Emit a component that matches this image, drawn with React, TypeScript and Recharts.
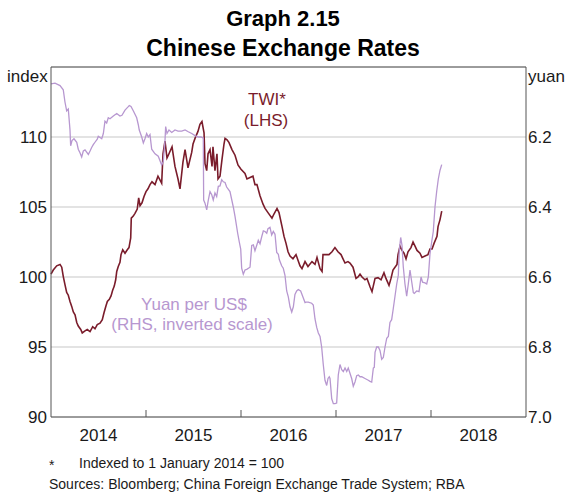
import React from "react";
import {
  LineChart,
  Line,
  XAxis,
  YAxis,
  CartesianGrid,
  ReferenceLine,
} from "recharts";

// [decimal year, index] — TWI, 1 Jan 2014 = 100
const twi: [number, number][] = [
  [2014.0, 100.2], [2014.024, 100.5], [2014.06, 100.8], [2014.095, 100.9], [2014.113, 100.7],
  [2014.129, 100.05], [2014.147, 99.45], [2014.165, 98.9], [2014.182, 98.7], [2014.2, 98.25],
  [2014.218, 97.9], [2014.235, 97.5], [2014.253, 97.3], [2014.271, 96.75], [2014.287, 96.5],
  [2014.313, 96.25], [2014.329, 96.0], [2014.358, 96.15], [2014.382, 96.25], [2014.411, 96.1],
  [2014.439, 96.45], [2014.463, 96.3], [2014.487, 96.6], [2014.516, 96.7], [2014.54, 96.95],
  [2014.558, 97.45], [2014.579, 97.95], [2014.593, 98.25], [2014.614, 98.4], [2014.632, 98.65],
  [2014.649, 99.05], [2014.666, 99.35], [2014.681, 99.8], [2014.692, 100.4], [2014.708, 100.75],
  [2014.726, 101.05], [2014.737, 101.6], [2014.755, 101.95], [2014.779, 101.7], [2014.803, 101.95],
  [2014.821, 102.1], [2014.839, 102.8], [2014.845, 104.2], [2014.866, 104.35], [2014.884, 104.55],
  [2014.908, 104.85], [2014.923, 105.65], [2014.937, 105.1], [2014.958, 105.3], [2014.979, 105.75],
  [2015.0, 106.1], [2015.021, 106.3], [2015.042, 106.6], [2015.063, 106.8], [2015.095, 106.6],
  [2015.126, 107.2], [2015.165, 106.7], [2015.179, 108.8], [2015.2, 109.7], [2015.221, 108.5],
  [2015.235, 108.7], [2015.274, 109.3], [2015.305, 107.9], [2015.337, 107.0], [2015.358, 106.3],
  [2015.389, 108.2], [2015.411, 109.1], [2015.442, 107.8], [2015.481, 108.9], [2015.495, 109.5],
  [2015.516, 109.9], [2015.547, 110.4], [2015.568, 110.9], [2015.589, 111.1], [2015.611, 110.3],
  [2015.621, 108.1], [2015.639, 107.6], [2015.653, 108.8], [2015.674, 109.1], [2015.695, 107.9],
  [2015.705, 109.3], [2015.726, 107.6], [2015.747, 108.8], [2015.758, 107.0], [2015.779, 107.2],
  [2015.8, 108.4], [2015.821, 109.5], [2015.832, 109.9], [2015.853, 109.8], [2015.874, 109.6],
  [2015.905, 109.1], [2015.937, 108.7], [2015.968, 108.0], [2016.0, 107.7], [2016.042, 107.4],
  [2016.063, 107.0], [2016.095, 107.1], [2016.126, 107.2], [2016.147, 106.6], [2016.168, 106.6],
  [2016.2, 105.8], [2016.232, 105.2], [2016.253, 104.9], [2016.284, 104.6], [2016.326, 104.2],
  [2016.347, 104.5], [2016.379, 104.9], [2016.4, 104.6], [2016.432, 103.6], [2016.453, 102.9],
  [2016.474, 102.4], [2016.495, 101.8], [2016.516, 101.5], [2016.547, 101.3], [2016.579, 101.6],
  [2016.6, 101.2], [2016.621, 100.8], [2016.642, 100.6], [2016.674, 101.1], [2016.705, 100.75],
  [2016.747, 101.1], [2016.779, 100.9], [2016.8, 101.4], [2016.832, 100.6], [2016.853, 100.4],
  [2016.863, 101.6], [2016.895, 101.6], [2016.926, 101.6], [2016.958, 101.8], [2016.989, 102.1],
  [2017.021, 101.8], [2017.053, 101.6], [2017.074, 101.3], [2017.095, 101.0], [2017.126, 101.1],
  [2017.147, 101.0], [2017.179, 100.7], [2017.211, 99.9], [2017.232, 100.0], [2017.253, 100.2],
  [2017.274, 100.0], [2017.305, 99.8], [2017.326, 99.9], [2017.337, 99.7], [2017.358, 99.3],
  [2017.379, 98.95], [2017.411, 99.9], [2017.442, 99.95], [2017.474, 99.8], [2017.505, 100.3],
  [2017.526, 99.9], [2017.558, 99.4], [2017.579, 99.9], [2017.6, 100.5], [2017.621, 100.7],
  [2017.642, 100.9], [2017.653, 101.6], [2017.674, 102.2], [2017.695, 101.9], [2017.716, 101.7],
  [2017.737, 101.3], [2017.758, 101.8], [2017.789, 102.1], [2017.811, 102.5], [2017.832, 102.2],
  [2017.853, 101.9], [2017.884, 101.7], [2017.905, 101.4], [2017.937, 101.5], [2017.968, 101.6],
  [2017.989, 102.0], [2018.011, 102.0], [2018.032, 102.4], [2018.063, 102.9], [2018.074, 103.6],
  [2018.095, 104.1], [2018.113, 104.7],
];

// [decimal year, CNY per USD]
const yuan: [number, number][] = [
  [2014.0, 6.048], [2014.042, 6.046], [2014.095, 6.053], [2014.129, 6.065], [2014.147, 6.1],
  [2014.165, 6.125], [2014.182, 6.12], [2014.2, 6.18], [2014.207, 6.225], [2014.221, 6.21],
  [2014.242, 6.205], [2014.271, 6.215], [2014.287, 6.235], [2014.305, 6.245], [2014.323, 6.257],
  [2014.34, 6.24], [2014.358, 6.237], [2014.393, 6.25], [2014.411, 6.24], [2014.428, 6.23],
  [2014.445, 6.222], [2014.463, 6.215], [2014.487, 6.206], [2014.498, 6.198], [2014.534, 6.205],
  [2014.551, 6.19], [2014.568, 6.155], [2014.586, 6.16], [2014.603, 6.145], [2014.621, 6.148],
  [2014.656, 6.14], [2014.692, 6.133], [2014.726, 6.14], [2014.747, 6.138], [2014.779, 6.123],
  [2014.811, 6.114], [2014.824, 6.11], [2014.842, 6.113], [2014.866, 6.125], [2014.902, 6.145],
  [2014.919, 6.165], [2014.929, 6.18], [2014.955, 6.2], [2014.972, 6.217], [2014.989, 6.205],
  [2015.007, 6.19], [2015.024, 6.2], [2015.042, 6.193], [2015.06, 6.235], [2015.095, 6.248],
  [2015.129, 6.255], [2015.165, 6.28], [2015.182, 6.27], [2015.2, 6.21], [2015.207, 6.17],
  [2015.221, 6.19], [2015.242, 6.18], [2015.271, 6.187], [2015.305, 6.18], [2015.337, 6.183],
  [2015.376, 6.183], [2015.411, 6.18], [2015.445, 6.185], [2015.481, 6.19], [2015.516, 6.196],
  [2015.551, 6.2], [2015.579, 6.2], [2015.603, 6.203], [2015.607, 6.38], [2015.621, 6.389],
  [2015.639, 6.408], [2015.656, 6.38], [2015.674, 6.356], [2015.692, 6.365], [2015.708, 6.38],
  [2015.726, 6.36], [2015.744, 6.37], [2015.761, 6.341], [2015.779, 6.34], [2015.797, 6.322],
  [2015.814, 6.328], [2015.832, 6.33], [2015.849, 6.343], [2015.884, 6.356], [2015.919, 6.4],
  [2015.937, 6.427], [2015.965, 6.475], [2015.982, 6.5], [2015.997, 6.52], [2016.007, 6.575],
  [2016.024, 6.592], [2016.042, 6.58], [2016.06, 6.578], [2016.095, 6.572], [2016.113, 6.51],
  [2016.13, 6.508], [2016.147, 6.525], [2016.165, 6.51], [2016.182, 6.495], [2016.2, 6.505],
  [2016.218, 6.485], [2016.235, 6.468], [2016.253, 6.47], [2016.271, 6.475], [2016.284, 6.462],
  [2016.305, 6.458], [2016.323, 6.48], [2016.34, 6.47], [2016.358, 6.478], [2016.376, 6.53],
  [2016.393, 6.535], [2016.403, 6.55], [2016.428, 6.568], [2016.445, 6.575], [2016.463, 6.595],
  [2016.481, 6.64], [2016.498, 6.657], [2016.516, 6.685], [2016.534, 6.7], [2016.551, 6.685],
  [2016.568, 6.65], [2016.586, 6.64], [2016.603, 6.636], [2016.628, 6.64], [2016.656, 6.66],
  [2016.674, 6.673], [2016.684, 6.672], [2016.708, 6.672], [2016.744, 6.675], [2016.761, 6.68],
  [2016.779, 6.72], [2016.797, 6.744], [2016.814, 6.76], [2016.832, 6.77], [2016.849, 6.8],
  [2016.866, 6.85], [2016.884, 6.895], [2016.902, 6.91], [2016.916, 6.89], [2016.929, 6.885],
  [2016.937, 6.89], [2016.955, 6.948], [2016.972, 6.962], [2016.989, 6.962], [2017.007, 6.96],
  [2017.024, 6.88], [2017.042, 6.85], [2017.06, 6.865], [2017.077, 6.87], [2017.095, 6.86],
  [2017.113, 6.87], [2017.129, 6.86], [2017.147, 6.875], [2017.165, 6.89], [2017.182, 6.912],
  [2017.2, 6.9], [2017.218, 6.882], [2017.235, 6.88], [2017.253, 6.885], [2017.271, 6.885],
  [2017.305, 6.89], [2017.34, 6.895], [2017.358, 6.898], [2017.376, 6.9], [2017.393, 6.86],
  [2017.403, 6.858], [2017.411, 6.815], [2017.428, 6.8], [2017.445, 6.8], [2017.463, 6.81],
  [2017.481, 6.835], [2017.498, 6.83], [2017.516, 6.8], [2017.534, 6.775], [2017.551, 6.77],
  [2017.568, 6.73], [2017.586, 6.722], [2017.603, 6.69], [2017.621, 6.655], [2017.639, 6.62],
  [2017.656, 6.595], [2017.666, 6.525], [2017.681, 6.487], [2017.695, 6.51], [2017.708, 6.57],
  [2017.726, 6.62], [2017.744, 6.655], [2017.761, 6.62], [2017.779, 6.58], [2017.795, 6.61],
  [2017.814, 6.645], [2017.824, 6.647], [2017.849, 6.64], [2017.874, 6.642], [2017.895, 6.6],
  [2017.911, 6.615], [2017.937, 6.617], [2017.955, 6.62], [2017.972, 6.6], [2017.989, 6.535],
  [2018.007, 6.5], [2018.024, 6.47], [2018.042, 6.4], [2018.06, 6.355], [2018.077, 6.32],
  [2018.095, 6.295], [2018.113, 6.279],
];

const years = [2014, 2015, 2016, 2017, 2018];
const leftTicks = [90, 95, 100, 105, 110];
const rightTicks = [6.2, 6.4, 6.6, 6.8, 7.0];

const W = 566;
const H = 494;
const LEFT_W = 51;
const RIGHT_W = 40;
const PLOT_W = W - LEFT_W - RIGHT_W;
const HALF_YEAR = PLOT_W / 5 / 2;

const TWI_COLOR = "#7a1c2b";
const YUAN_COLOR = "#b797d0";
const AXIS = "#555555";
const FONT = "Arial, 'Liberation Sans', sans-serif";

const rows = [
  ...twi.map(([t, v]) => ({ t, twi: v as number | undefined, yuan: undefined as number | undefined })),
  ...yuan.map(([t, v]) => ({ t, twi: undefined as number | undefined, yuan: v as number | undefined })),
].sort((a, b) => a.t - b.t);

function YearTick(props: any) {
  const { x, y, payload } = props;
  return (
    <g>
      {payload.value > 2014 && (
        <line x1={x} x2={x} y1={y} y2={y - 7} stroke={AXIS} strokeWidth={1} />
      )}
      <text x={x + HALF_YEAR} y={y + 23.5} textAnchor="middle" fontSize={17} fill="#1a1a1a" fontFamily={FONT}>
        {payload.value}
      </text>
    </g>
  );
}

export default function App() {
  return (
    <div style={{ position: "absolute", left: 0, top: 0, width: W, height: H, background: "#fff", fontFamily: FONT }}>
      <LineChart width={W} height={H} data={rows} margin={{ top: 67, right: 0, bottom: 47, left: 0 }}>
        <CartesianGrid yAxisId="l" vertical={false} stroke="#c8c8c8" strokeWidth={1.2} />
        <XAxis
          dataKey="t"
          type="number"
          domain={[2014, 2019]}
          ticks={years}
          interval={0}
          tick={<YearTick />}
          tickLine={false}
          tickSize={0}
          tickMargin={0}
          height={30}
          axisLine={{ stroke: AXIS }}
        />
        <YAxis
          yAxisId="l"
          domain={[90, 115]}
          ticks={leftTicks}
          interval={0}
          width={LEFT_W}
          tickLine={false}
          tickSize={0}
          tickMargin={4}
          axisLine={{ stroke: AXIS }}
          tick={{ fontSize: 17, fill: "#1a1a1a", fontFamily: FONT }}
        />
        <YAxis
          yAxisId="r"
          orientation="right"
          domain={[6.0, 7.0]}
          reversed
          ticks={rightTicks}
          interval={0}
          width={RIGHT_W}
          tickLine={false}
          tickSize={0}
          tickMargin={2}
          tickFormatter={(v: number) => v.toFixed(1)}
          axisLine={{ stroke: AXIS }}
          tick={{ fontSize: 17, fill: "#1a1a1a", fontFamily: FONT, textAnchor: "start" }}
        />
        <ReferenceLine yAxisId="l" y={115} stroke={AXIS} />
        <Line
          yAxisId="l"
          dataKey="twi"
          type="linear"
          stroke={TWI_COLOR}
          strokeWidth={1.6}
          dot={false}
          connectNulls
          isAnimationActive={false}
        />
        <Line
          yAxisId="r"
          dataKey="yuan"
          type="linear"
          stroke={YUAN_COLOR}
          strokeWidth={1.3}
          dot={false}
          connectNulls
          isAnimationActive={false}
        />
      </LineChart>
      <svg width={W} height={H} style={{ position: "absolute", left: 0, top: 0, pointerEvents: "none" }} fontFamily={FONT}>
        <text x={W / 2} y={26} textAnchor="middle" fontSize={22} fontWeight="bold" fill="#000">Graph 2.15</text>
        <text x={W / 2} y={56} textAnchor="middle" fontSize={23} fontWeight="bold" fill="#000">Chinese Exchange Rates</text>
        <text x={7} y={82} fontSize={17} fill="#1a1a1a">index</text>
        <text x={528} y={82} fontSize={17} fill="#1a1a1a">yuan</text>
        <text x={267} y={105} textAnchor="middle" fontSize={17} fill={TWI_COLOR}>TWI*</text>
        <text x={266} y={126} textAnchor="middle" fontSize={17} fill={TWI_COLOR}>(LHS)</text>
        <text x={194} y={310} textAnchor="middle" fontSize={17} fill={YUAN_COLOR}>Yuan per US$</text>
        <text x={192} y={330} textAnchor="middle" fontSize={17} fill={YUAN_COLOR}>(RHS, inverted scale)</text>
        <text x={49} y={470} fontSize={14} fill="#1a1a1a">*</text>
        <text x={79} y={468} fontSize={14} fill="#1a1a1a">Indexed to 1 January 2014 = 100</text>
        <text x={49} y={489} fontSize={14} fill="#1a1a1a">Sources: Bloomberg; China Foreign Exchange Trade System; RBA</text>
      </svg>
    </div>
  );
}
